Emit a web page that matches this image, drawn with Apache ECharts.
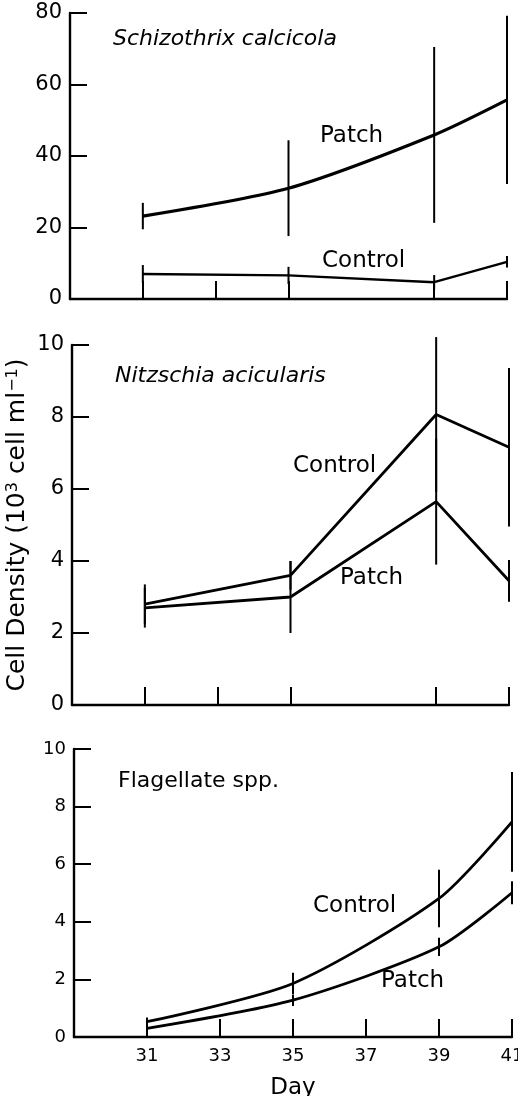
<!DOCTYPE html>
<html>
<head>
<meta charset="UTF-8">
<title>Cell density</title>
<script src="https://cdn.jsdelivr.net/npm/echarts@6/dist/echarts.min.js"></script>
<style>
  html, body { margin: 0; padding: 0; background: #fff; }
  #main { width: 518px; height: 1096px; }
</style>
</head>
<body>
<div id="main"></div>
<script>
// days sampled
var days = [31, 35, 39, 41];

// Schizothrix calcicola (10^3 cell/ml), mean and +/- error
var schizoPatch = [23.2, 31.0, 45.9, 55.7];
var schizoPatchErr = [3.7, 13.4, 24.6, 23.5];
var schizoControl = [7.0, 6.6, 4.7, 10.4];
var schizoControlErr = [2.5, 2.4, 2.0, 1.6];

// Nitzschia acicularis
var nitzControl = [2.8, 3.6, 8.07, 7.16];
var nitzControlErr = [0.55, 0.4, 2.15, 2.2];
var nitzPatch = [2.7, 3.0, 5.65, 3.45];
var nitzPatchErr = [0.55, 1.0, 1.75, 0.58];

// Flagellate spp.
var flagControl = [0.53, 1.86, 4.81, 7.47];
var flagControlErr = [0.15, 0.37, 1.0, 1.73];
var flagPatch = [0.30, 1.28, 3.13, 5.01];
var flagPatchErr = [0.1, 0.2, 0.32, 0.4];

// x ticks
var ticksUpper = [31, 33, 35, 39, 41];
var ticksBottom = [31, 33, 35, 37, 39, 41];

var FONT = '"DejaVu Sans", sans-serif';

function pairs(ys) {
  return days.map(function (d, i) { return [d, ys[i]]; });
}
function triples(ys, es) {
  return days.map(function (d, i) { return [d, ys[i], es[i]]; });
}

// vertical error bar, no caps
function errBar(params, api) {
  var x = api.value(0), m = api.value(1), e = api.value(2);
  var a = api.coord([x, m + e]);
  var b = api.coord([x, m - e]);
  return {
    type: 'line',
    shape: { x1: a[0], y1: a[1], x2: b[0], y2: b[1] },
    style: { stroke: '#000', lineWidth: 2 }
  };
}

function xAx(idx, ticks, showLabels) {
  return {
    type: 'value', gridIndex: idx, min: 29, max: 41,
    axisLine: { lineStyle: { color: '#000', width: 2.4 } },
    axisTick: { inside: true, length: 18, customValues: ticks, lineStyle: { color: '#000', width: 2 } },
    axisLabel: { show: showLabels, customValues: ticks, color: '#000', fontSize: 18, fontFamily: FONT, margin: 10 },
    splitLine: { show: false }
  };
}
function yAx(idx, max, step, fs) {
  return {
    type: 'value', gridIndex: idx, min: 0, max: max, interval: step,
    axisLine: { show: true, lineStyle: { color: '#000', width: 2.4 } },
    axisTick: { show: true, inside: true, length: 17, lineStyle: { color: '#000', width: 2 } },
    axisLabel: { color: '#000', fontSize: fs, fontFamily: FONT, margin: 8 },
    splitLine: { show: false }
  };
}
function line(idx, ys, w, smooth) {
  return {
    type: 'line', xAxisIndex: idx, yAxisIndex: idx, data: pairs(ys),
    showSymbol: false, smooth: smooth, lineStyle: { color: '#000', width: w },
    silent: true
  };
}
function bars(idx, ys, es) {
  return {
    type: 'custom', xAxisIndex: idx, yAxisIndex: idx,
    data: triples(ys, es), renderItem: errBar, silent: true
  };
}
function txt(x, y, s, size, italic) {
  return {
    type: 'text', left: x, top: y - size * 0.55,
    style: { text: s, fill: '#000', font: (italic ? 'italic ' : '') + size + 'px ' + FONT }
  };
}

var yMid = yAx(1, 10, 2, 21);
yMid.name = 'Cell Density (10{s|3} cell ml{s|−1})';
yMid.nameLocation = 'middle';
yMid.nameRotate = 90;
yMid.nameGap = 42;
yMid.nameMoveOverlap = false;
yMid.nameTextStyle = {
  color: '#000', fontSize: 25, fontFamily: FONT,
  rich: { s: { fontSize: 16, verticalAlign: 'top', fontFamily: FONT, color: '#000', padding: [0, 0, 9, 0] } }
};

var xBot = xAx(2, ticksBottom, true);
xBot.name = 'Day';
xBot.nameLocation = 'middle';
xBot.nameGap = 40;
xBot.nameTextStyle = { color: '#000', fontSize: 23, fontFamily: FONT };

var option = {
  animation: false,
  backgroundColor: '#fff',
  grid: [
    { left: 70, right: 11, top: 13, height: 286, outerBoundsMode: 'none' },
    { left: 72, right: 9, top: 345, height: 360, outerBoundsMode: 'none' },
    { left: 74, right: 6, top: 749, height: 288, outerBoundsMode: 'none' }
  ],
  xAxis: [xAx(0, ticksUpper, false), xAx(1, ticksUpper, false), xBot],
  yAxis: [yAx(0, 80, 20, 21), yMid, yAx(2, 10, 2, 18)],
  series: [
    line(0, schizoPatch, 3.2, 0.25), bars(0, schizoPatch, schizoPatchErr),
    line(0, schizoControl, 2.4, false), bars(0, schizoControl, schizoControlErr),
    line(1, nitzControl, 2.8, false), bars(1, nitzControl, nitzControlErr),
    line(1, nitzPatch, 2.8, false), bars(1, nitzPatch, nitzPatchErr),
    line(2, flagControl, 2.8, 0.25), bars(2, flagControl, flagControlErr),
    line(2, flagPatch, 2.8, 0.25), bars(2, flagPatch, flagPatchErr)
  ],
  graphic: [
    txt(113, 40, 'Schizothrix calcicola', 22, true),
    txt(320, 137, 'Patch', 23),
    txt(322, 262, 'Control', 23),
    txt(115, 377, 'Nitzschia acicularis', 22, true),
    txt(293, 467, 'Control', 23),
    txt(340, 579, 'Patch', 23),
    txt(118, 782, 'Flagellate spp.', 22),
    txt(313, 907, 'Control', 23),
    txt(381, 982, 'Patch', 23)
  ]
};

var myChart = echarts.init(document.getElementById('main'));
myChart.setOption(option);
</script>
</body>
</html>
